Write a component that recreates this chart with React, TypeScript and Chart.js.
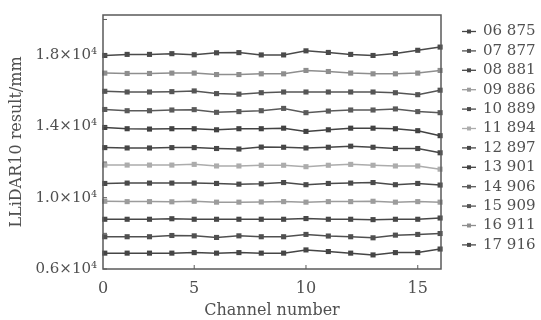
import React, { useEffect, useRef } from "react";
import { Chart, registerables } from "chart.js";

Chart.register(...registerables);

// Channel positions (x) for the 16 measurement points
const channels = [1, 2, 3, 4, 5, 6, 7, 8, 9, 10, 11, 12, 13, 14, 15, 16];

// Legend labels (target distances)
const seriesNames = [
  "06 875", "07 877", "08 881", "09 886", "10 889", "11 894",
  "12 897", "13 901", "14 906", "15 909", "16 911", "17 916",
];

// Measured values (mm) per series
const s06875 = [6890, 6890, 6890, 6890, 6920, 6890, 6920, 6890, 6890, 7070, 6980, 6890, 6790, 6920, 6920, 7120];
const s07877 = [7810, 7810, 7810, 7880, 7860, 7770, 7860, 7810, 7810, 7940, 7850, 7810, 7750, 7900, 7940, 7990];
const s08881 = [8790, 8790, 8790, 8820, 8790, 8790, 8790, 8790, 8790, 8830, 8790, 8790, 8770, 8790, 8790, 8860];
const s09886 = [9800, 9780, 9780, 9770, 9800, 9750, 9750, 9760, 9780, 9750, 9780, 9780, 9800, 9750, 9780, 9750];
const s10889 = [10800, 10820, 10820, 10820, 10820, 10800, 10760, 10780, 10850, 10730, 10800, 10820, 10850, 10730, 10800, 10710];
const s11894 = [11830, 11830, 11830, 11830, 11870, 11780, 11780, 11820, 11820, 11740, 11820, 11870, 11820, 11780, 11780, 11600];
const s12897 = [12810, 12790, 12790, 12810, 12810, 12760, 12730, 12840, 12830, 12790, 12830, 12890, 12830, 12760, 12760, 12520];
const s13901 = [13940, 13870, 13850, 13870, 13870, 13810, 13870, 13870, 13900, 13720, 13810, 13900, 13900, 13870, 13760, 13480];
const s14906 = [14950, 14880, 14880, 14920, 14940, 14790, 14830, 14880, 15010, 14770, 14860, 14920, 14920, 14980, 14830, 14770];
const s15909 = [15970, 15930, 15930, 15950, 15990, 15840, 15810, 15890, 15930, 15930, 15930, 15930, 15930, 15890, 15780, 16030];
const s16911 = [16990, 16970, 16970, 16990, 16990, 16910, 16910, 16950, 16950, 17140, 17080, 16990, 16950, 16950, 16990, 17140];
const s17916 = [17980, 18040, 18040, 18080, 18020, 18130, 18140, 18010, 18010, 18240, 18150, 18040, 17980, 18090, 18270, 18450];

const seriesValues = [s06875, s07877, s08881, s09886, s10889, s11894, s12897, s13901, s14906, s15909, s16911, s17916];

const seriesColors = [
  "#454545", "#505050", "#474747", "#9c9c9c", "#4a4a4a", "#acacac",
  "#474747", "#424242", "#5a5a5a", "#555555", "#8e8e8e", "#4a4a4a",
];

// Axes
const xMin = 0.92;
const xMax = 16.04;
const xTickValues = [5, 10, 15];
const xTickLabels = ["0", "5", "10", "15"]; // "0" sits at the axis origin
const yMin = 6000;
const yMax = 20250;
const yTickValues = [6000, 8000, 10000, 12000, 14000, 16000, 18000, 20000];
const yLabeledValues = [6000, 10000, 14000, 18000];
const yTickLabels = ["0.6×10⁴", "1.0×10⁴", "1.4×10⁴", "1.8×10⁴"];

const FONT = "'DejaVu Serif', 'Liberation Serif', serif";
const TEXT = "#505050";
const FRAME = "#5a5a5a";

const framePlugin = {
  id: "frameAndTicks",
  afterDatasetsDraw(chart: any) {
    const { ctx, chartArea } = chart;
    const { left, right, top, bottom } = chartArea;
    const xs = chart.scales.x;
    const ys = chart.scales.y;
    ctx.save();
    ctx.strokeStyle = FRAME;
    ctx.lineWidth = 1.5;
    ctx.strokeRect(left, top, right - left, bottom - top);
    ctx.lineWidth = 1;
    ctx.beginPath();
    for (const v of yTickValues) {
      const py = ys.getPixelForValue(v);
      if (py < top || py > bottom) continue;
      ctx.moveTo(left, py);
      ctx.lineTo(left + 4, py);
    }
    for (const v of xTickValues) {
      const px = xs.getPixelForValue(v);
      ctx.moveTo(px, bottom);
      ctx.lineTo(px, bottom - 4);
    }
    ctx.stroke();
    ctx.restore();
  },
  afterDraw(chart: any) {
    const { ctx, chartArea } = chart;
    const x0 = chartArea.right + 21;
    const y0 = 31.5;
    const step = 19.4;
    ctx.save();
    chart.data.datasets.forEach((ds: any, i: number) => {
      const y = y0 + i * step;
      ctx.strokeStyle = ds.borderColor;
      ctx.lineWidth = 1.3;
      ctx.beginPath();
      ctx.moveTo(x0, y);
      ctx.lineTo(x0 + 14, y);
      ctx.stroke();
      ctx.fillStyle = ds.borderColor;
      ctx.fillRect(x0 + 7 - 2, y - 2, 4, 4);
      ctx.fillStyle = TEXT;
      ctx.font = `15px ${FONT}`;
      ctx.textAlign = "left";
      ctx.textBaseline = "middle";
      ctx.fillText(ds.label, x0 + 21, y);
    });
    ctx.restore();
  },
};

export default function App() {
  const ref = useRef<HTMLCanvasElement | null>(null);

  useEffect(() => {
    if (!ref.current) return;
    const datasets = seriesValues.map((vals, i) => ({
      label: seriesNames[i],
      data: vals.map((v, j) => ({ x: channels[j], y: v })),
      borderColor: seriesColors[i],
      backgroundColor: seriesColors[i],
      pointBackgroundColor: seriesColors[i],
      pointBorderColor: seriesColors[i],
      borderWidth: 1.5,
      pointStyle: "rect" as const,
      pointRadius: 3.6,
      pointBorderWidth: 0,
      tension: 0,
      clip: false as any,
    }));

    const chart = new Chart(ref.current, {
      type: "line",
      data: { datasets },
      options: {
        animation: false,
        responsive: false,
        maintainAspectRatio: false,
        layout: { padding: { top: 12, right: 100, bottom: 0, left: 0 } },
        plugins: { legend: { display: false }, tooltip: { enabled: false } },
        scales: {
          x: {
            type: "linear",
            min: xMin,
            max: xMax,
            grid: { display: false, drawTicks: false },
            border: { display: false },
            afterBuildTicks: (scale: any) => {
              scale.ticks = [xMin, ...xTickValues].map((v) => ({ value: v }));
            },
            afterFit: (scale: any) => {
              scale.height = 51;
            },
            ticks: {
              autoSkip: false,
              maxRotation: 0,
              padding: 10,
              color: TEXT,
              font: { family: FONT, size: 16 },
              callback: (_v: any, idx: number) => xTickLabels[idx],
            },
            title: {
              display: true,
              text: "Channel number",
              color: TEXT,
              font: { family: FONT, size: 16 },
              padding: { top: 0, bottom: 0 },
            },
          },
          y: {
            type: "linear",
            min: yMin,
            max: yMax,
            grid: { display: false, drawTicks: false },
            border: { display: false },
            afterBuildTicks: (scale: any) => {
              scale.ticks = yTickValues.map((v) => ({ value: v }));
            },
            afterFit: (scale: any) => {
              scale.width = 103;
            },
            ticks: {
              autoSkip: false,
              padding: 6,
              color: TEXT,
              font: { family: FONT, size: 15 },
              callback: (v: any) => {
                const k = yLabeledValues.indexOf(Number(v));
                return k >= 0 ? yTickLabels[k] : "";
              },
            },
            title: {
              display: true,
              text: "LLiDAR10 result/mm",
              color: TEXT,
              font: { family: FONT, size: 16 },
              padding: { top: 7, bottom: 0 },
            },
          },
        },
      },
      plugins: [framePlugin],
    });
    return () => chart.destroy();
  }, []);

  return (
    <div style={{ position: "fixed", left: 0, top: 0, width: 541, height: 320, background: "#fff" }}>
      <canvas ref={ref} width={541} height={320} />
    </div>
  );
}
